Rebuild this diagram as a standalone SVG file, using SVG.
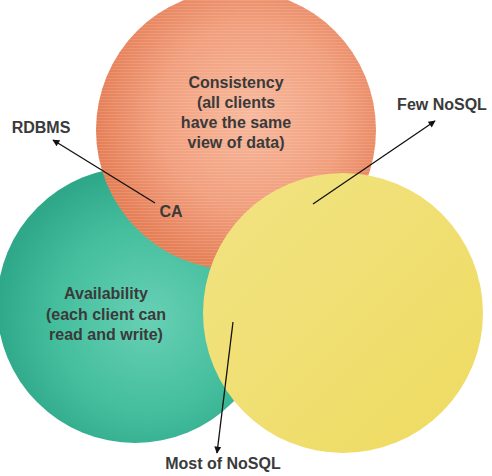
<svg xmlns="http://www.w3.org/2000/svg" width="492" height="476" viewBox="0 0 492 476">
<defs>
<radialGradient id="gOrange" cx="0.55" cy="0.45" r="0.55">
<stop offset="0" stop-color="#f7b89c"/>
<stop offset="0.6" stop-color="#f19e7c"/>
<stop offset="1" stop-color="#e57f57"/>
</radialGradient>
<radialGradient id="gGreen" cx="0.55" cy="0.55" r="0.55">
<stop offset="0" stop-color="#68d0b4"/>
<stop offset="0.6" stop-color="#45bf9e"/>
<stop offset="1" stop-color="#2ea888"/>
</radialGradient>
<linearGradient id="gYellow" x1="0" y1="0" x2="1" y2="1">
<stop offset="0" stop-color="#f2e384"/>
<stop offset="1" stop-color="#eedb60"/>
</linearGradient>
<pattern id="stripes" width="4" height="3" patternUnits="userSpaceOnUse">
<rect width="4" height="1" fill="#ffffff" opacity="0.12"/>
</pattern>
<marker id="arrow" viewBox="0 0 10 10" refX="9" refY="5" markerWidth="9" markerHeight="7" markerUnits="userSpaceOnUse" orient="auto">
<path d="M0,0 L10,5 L0,10 z" fill="#111"/>
</marker>
</defs>
<style>
.lbl{font-family:"Liberation Sans",Arial,sans-serif;font-weight:bold;font-size:16px;fill:#3a3a3a;text-anchor:middle}
.conn{stroke:#111;stroke-width:1.3;fill:none;marker-end:url(#arrow)}
</style>
<rect width="492" height="476" fill="#ffffff"/>
<g id="availability">
<circle cx="135" cy="305" r="138" fill="url(#gGreen)"/>
<text class="lbl" x="106" y="299">Availability</text>
<text class="lbl" x="106" y="320">(each client can</text>
<text class="lbl" x="106" y="340">read and write)</text>
</g>
<g id="consistency">
<circle cx="236" cy="130" r="140" fill="url(#gOrange)"/>
<circle cx="236" cy="130" r="140" fill="url(#stripes)"/>
<text class="lbl" x="236" y="88">Consistency</text>
<text class="lbl" x="236" y="108">(all clients</text>
<text class="lbl" x="236" y="128">have the same</text>
<text class="lbl" x="236" y="148">view of data)</text>
</g>
<g id="partition">
<circle cx="343" cy="313" r="140" fill="url(#gYellow)"/>
</g>
<g id="ca"><text class="lbl" x="171" y="217">CA</text></g>
<g id="rdbms"><text class="lbl" x="41" y="133">RDBMS</text></g>
<g id="fewnosql"><text class="lbl" x="442" y="110">Few NoSQL</text></g>
<g id="mostnosql"><text class="lbl" x="223" y="469">Most of NoSQL</text></g>
<g id="connectors">
<line class="conn" x1="155" y1="203" x2="53" y2="140"/>
<line class="conn" x1="313" y1="204" x2="435" y2="121"/>
<line class="conn" x1="233" y1="322" x2="217" y2="453"/>
</g>
</svg>
